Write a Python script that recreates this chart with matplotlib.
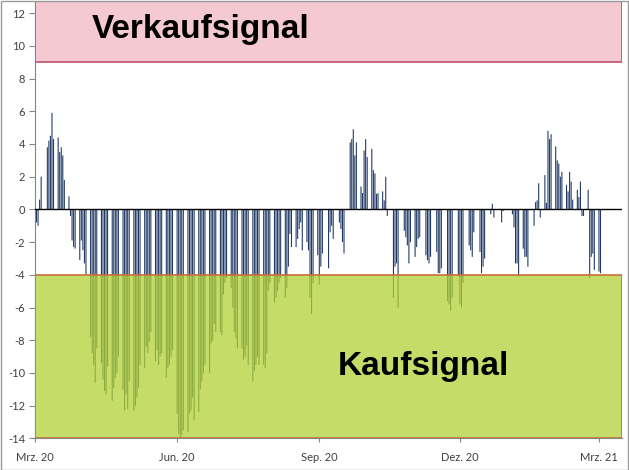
import numpy as np
import pandas as pd
import matplotlib
matplotlib.use("Agg")
import matplotlib.pyplot as plt
import matplotlib.dates as mdates
from matplotlib.patches import Rectangle

# --- data: one row per week (Mon..Fri), None = no value that day ---
START = "2020-03-02"

spring_2020 = [
    [-0.8, -1.0, 0.6, 2.0, None],
    [3.8, 4.2, 4.5, 5.9, 4.3],
    [4.4, 3.5, 3.8, 3.3, 1.8],
    [0.8, -0.4, -1.9, -2.3, -2.4],
    [-3.1, -1.9, -2.5, -3.3, -4.0],
    [-7.8, -8.8, -9.5, -10.6, -8.5],
    [-9.4, -10.4, -11.1, -11.3, -9.6],
    [-11.7, -10.9, -10.3, -10.0, -9.0],
    [-11.0, -12.3, -11.3, -12.2, -10.5],
    [-12.3, -12.0, -11.5, -10.9, -9.5],
    [-9.7, -8.4, -8.8, -8.1, -7.5],
    [-9.3, -8.6, -9.5, -9.0, -8.8],
    [-10.3, -9.7, -9.5, -9.0, -8.6],
]
summer_2020 = [
    [-12.5, -13.7, -14.0, -13.8, -13.5],
    [-13.6, -12.5, -12.3, -11.5, -12.9],
    [-12.4, -11.0, -10.5, -10.0, -9.5],
    [-10.0, -8.2, -8.0, -7.0, -7.5],
    [-7.5, -7.7, -5.2, -4.5, -4.2],
    [-4.8, -6.0, -7.5, -7.9, -8.5],
    [-8.5, -9.2, -9.0, -8.3, -9.5],
    [-10.5, -9.9, -9.5, -9.0, -9.5],
    [-9.5, -9.7, -8.8, -5.0, -4.5],
    [-5.7, -5.4, -5.0, -4.5, -4.2],
    [-5.4, -4.8, -3.5, -1.5, -2.3],
    [-2.3, -1.8, -1.2, -0.8, -2.5],
    [-2.0, -2.5, -5.4, -6.4, -4.5],
]
autumn_2020 = [
    [-2.8, -4.6, -3.5, -2.7, None],
    [-3.6, -1.4, -1.0, -1.8, None],
    [-0.8, -1.2, -2.0, -2.7, None],
    [4.1, 4.3, 4.9, 3.3, 4.1],
    [1.4, 1.0, 3.6, 4.3, 3.2],
    [3.7, 2.4, 2.2, 0.95, 1.0],
    [1.1, 0.55, 2.0, -0.4, None],
    [-5.4, -3.5, -3.3, -6.0, None],
    [-1.3, -1.7, -2.2, -3.3, -2.0],
    [-2.9, -2.3, -1.8, -1.7, None],
    [-2.8, -3.1, -3.3, -2.9, None],
    [-2.6, -3.9, -3.9, -3.6, None],
    [-5.6, -5.8, -6.2, -5.4, None],
]
winter_2020 = [
    [-4.1, -5.8, -6.0, -4.5, None],
    [-2.2, -2.5, -2.9, -1.4, None],
    [-2.6, -3.9, -3.5, -3.0, None],
    [-0.3, 0.35, -0.5, None, None],
    [-0.8, -0.1, None, None, None],
    [-0.3, -1.1, -3.3, -3.3, -4.1],
    [-2.4, -2.9, -2.9, -3.5, None],
    [-1.0, 0.45, 0.55, 1.6, -0.5],
    [2.1, 0.4, 4.8, 4.3, 4.6],
    [3.85, 3.0, 2.8, 2.0, 2.3],
    [1.5, 1.1, 2.3, 1.7, 0.6],
    [1.2, 0.75, 1.7, -0.4, -0.4],
    [1.2, -4.2, -2.9, -2.7, -3.7],
    [-3.8, -3.9, None, None, None],
]

x_ticks = ["2020-03-01", "2020-06-01", "2020-09-01", "2020-12-01", "2021-03-01"]
x_tick_labels = ["Mrz. 20", "Jun. 20", "Sep. 20", "Dez. 20", "Mrz. 21"]
y_ticks = list(range(-14, 13, 2))

SELL_LEVEL = 9
BUY_LEVEL = -4

# --- build the daily series ---
rows = spring_2020 + summer_2020 + autumn_2020 + winter_2020
flat = [np.nan if v is None else v for week in rows for v in week]
days = pd.bdate_range(START, periods=len(flat))
vals = np.array(flat, dtype=float)
ok = ~np.isnan(vals)

# --- plot ---
fig = plt.figure(figsize=(6.29, 4.70), dpi=100)
ax = fig.add_axes([0.0556, 0.0672, 0.9335, 0.931])

x0 = mdates.date2num(pd.Timestamp("2020-03-01"))
x1 = mdates.date2num(pd.Timestamp("2021-03-16"))
ymin, ymax = -14, 12.75

# no snapping, otherwise sub-pixel bars drop out
bars = ax.bar(days[ok], vals[ok], width=0.7, color="#1F3864", lw=0, zorder=2)
for b in bars:
    b.set_snap(False)
ax.axhline(0, color="black", lw=1.0, zorder=4)

# signal zones
ax.add_patch(Rectangle((x0, SELL_LEVEL), x1 - x0, ymax - SELL_LEVEL,
                       facecolor="#f4c6d0", edgecolor="none", alpha=0.95, zorder=3))
ax.add_patch(Rectangle((x0, SELL_LEVEL), x1 - x0, ymax - SELL_LEVEL,
                       facecolor="none", edgecolor="#c0506a", lw=1.2, zorder=5))
ax.add_patch(Rectangle((x0, ymin), x1 - x0, BUY_LEVEL - ymin,
                       facecolor="#b2d235", edgecolor="none", alpha=0.75, zorder=3))
ax.add_patch(Rectangle((x0, ymin), x1 - x0, BUY_LEVEL - ymin,
                       facecolor="none", edgecolor="#c8703a", lw=1.2, zorder=5))

ax.text(pd.Timestamp("2020-04-07"), 11.0, "Verkaufsignal", fontsize=24,
        fontweight="bold", family="Liberation Sans", color="black",
        ha="left", va="center", zorder=6)
ax.text(pd.Timestamp("2020-09-13"), -9.6, "Kaufsignal", fontsize=24,
        fontweight="bold", family="Liberation Sans", color="black",
        ha="left", va="center", zorder=6)

ax.set_xlim(x0, x1)
ax.set_ylim(ymin, ymax)
ax.set_yticks(y_ticks)
ax.set_yticklabels([str(t) for t in y_ticks])
ax.set_xticks([pd.Timestamp(t) for t in x_ticks])
ax.set_xticklabels(x_tick_labels)

for lab in ax.get_xticklabels() + ax.get_yticklabels():
    lab.set_family("Lato")
    lab.set_fontsize(8)
    lab.set_color("#404040")

ax.tick_params(axis="y", length=4, color="#868686", pad=3)
ax.tick_params(axis="x", length=3, color="#868686", pad=7)

for s in ["top", "right"]:
    ax.spines[s].set_visible(False)
ax.spines["left"].set_color("#868686")
ax.spines["bottom"].set_color("#868686")

# thin grey frame around the whole chart
fig.patches.append(Rectangle((0.001, 0.001), 0.997, 0.997, transform=fig.transFigure,
                             facecolor="none", edgecolor="#9a9a9a", lw=1.0))

fig.savefig("out.png", dpi=100)
